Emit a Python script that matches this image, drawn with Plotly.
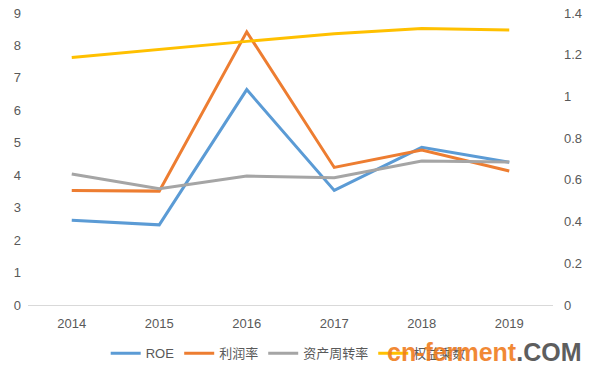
import plotly.graph_objects as go

years = ["2014", "2015", "2016", "2017", "2018", "2019"]
roe = [2.61, 2.47, 6.64, 3.53, 4.86, 4.40]
profit_margin = [3.53, 3.51, 8.42, 4.24, 4.78, 4.13]
asset_turnover = [0.628, 0.558, 0.618, 0.610, 0.690, 0.686]
equity_multiplier = [1.187, 1.227, 1.264, 1.300, 1.326, 1.318]

left_ticks = [0, 1, 2, 3, 4, 5, 6, 7, 8, 9]
right_ticks = [0, 0.2, 0.4, 0.6, 0.8, 1.0, 1.2, 1.4]
right_labels = ["0", "0.2", "0.4", "0.6", "0.8", "1", "1.2", "1.4"]

fig = go.Figure()
fig.add_trace(go.Scatter(x=years, y=roe, name="ROE", mode="lines",
                         line=dict(color="#5B9BD5", width=3)))
fig.add_trace(go.Scatter(x=years, y=profit_margin, name="利润率", mode="lines",
                         line=dict(color="#ED7D31", width=3)))
fig.add_trace(go.Scatter(x=years, y=asset_turnover, name="资产周转率", mode="lines",
                         line=dict(color="#A5A5A5", width=3), yaxis="y2"))
fig.add_trace(go.Scatter(x=years, y=equity_multiplier, name="权益乘数", mode="lines",
                         line=dict(color="#FFC000", width=3), yaxis="y2"))

tick_font = dict(family="Liberation Sans, Noto Sans CJK SC, sans-serif", size=13, color="#595959")

fig.update_layout(
    width=596, height=373,
    margin=dict(l=28, r=43, t=13, b=68, autoexpand=False),
    paper_bgcolor="white", plot_bgcolor="white",
    font=dict(family="Liberation Sans, Noto Sans CJK SC, sans-serif", color="#595959"),
    xaxis=dict(type="category", showgrid=False, showline=True, linecolor="#D9D9D9",
               linewidth=1, ticks="", tickfont=tick_font, ticklabelstandoff=6,
               range=[-0.5, 5.5], zeroline=False, automargin=False),
    yaxis=dict(range=[0, 9], tickvals=left_ticks, showgrid=False, zeroline=False,
               showline=False, tickfont=tick_font, ticklabelstandoff=6, automargin=False),
    yaxis2=dict(range=[0, 1.4], tickvals=right_ticks, ticktext=right_labels,
                overlaying="y", side="right", showgrid=False, zeroline=False,
                showline=False, tickfont=tick_font, ticklabelstandoff=10, automargin=False),
    showlegend=True,
    legend=dict(orientation="h", x=0.148, xanchor="left", y=-0.165, yanchor="middle",
                font=dict(family="Liberation Sans, Noto Sans CJK SC, sans-serif",
                          size=13, color="#595959"),
                itemwidth=30, bgcolor="rgba(0,0,0,0)"),
)

fig.add_annotation(
    text="<b><span style='color:#F07D1F'>cn-ferment</span><span style='color:#4D4D4D'>.COM</span></b>",
    xref="paper", yref="paper", x=(484 - 28) / 525, y=(305 - 352) / 292,
    xanchor="center", yanchor="middle", showarrow=False,
    font=dict(family="Liberation Sans, sans-serif", size=25),
    opacity=0.9,
)

fig.write_html("out.html",
               config={"displayModeBar": False},
               post_script="document.body.style.margin='0px';document.body.style.overflow='hidden';")
